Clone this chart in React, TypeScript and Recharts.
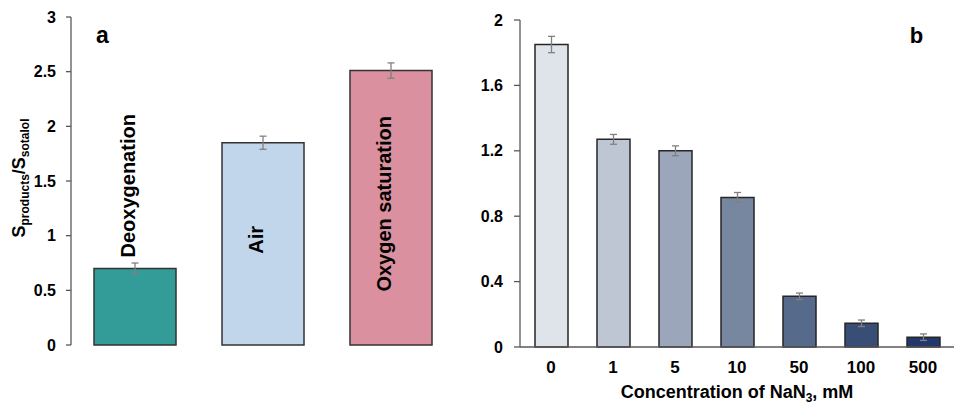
import React from 'react';
import { BarChart, Bar, XAxis, YAxis, Cell, ErrorBar, LabelList } from 'recharts';

const groupsA = ['Deoxygenation', 'Air', 'Oxygen saturation'];
const valuesA = [0.7, 1.85, 2.51];
const errorsA = [0.05, 0.06, 0.07];
const colorsA = ['#339b98', '#c2d6eb', '#da909e'];
const ticksA = [0, 0.5, 1, 1.5, 2, 2.5, 3];

const concB = ['0', '1', '5', '10', '50', '100', '500'];
const valuesB = [1.85, 1.27, 1.2, 0.915, 0.31, 0.145, 0.06];
const errorsB = [0.05, 0.03, 0.03, 0.03, 0.02, 0.02, 0.02];
const colorsB = ['#dfe3ea', '#bec6d4', '#9ba6ba', '#77879f', '#566a8b', '#394e74', '#22386a'];
const ticksB = [0, 0.4, 0.8, 1.2, 1.6, 2];

const dataA = groupsA.map((name, i) => ({ name, value: valuesA[i], err: errorsA[i] }));
const dataB = concB.map((name, i) => ({ name, value: valuesB[i], err: errorsB[i] }));

const FONT = '"Liberation Sans", Arial, sans-serif';
const AXIS = '#595959';

const renderBarLabel = (props: any) => {
  const { x, y, width, height, value } = props;
  const fs = 20;
  const cx = Number(x) + Number(width) / 2;
  const txt = String(value);
  const est = txt.length * 0.58 * fs;
  if (est > Number(height) - 10) {
    const sy = Number(y) - 11;
    return (
      <text x={cx} y={sy} transform={`rotate(-90, ${cx}, ${sy})`} textAnchor="start"
        fontFamily={FONT} fontWeight="bold" fontSize={fs} fill="#000">{txt}</text>
    );
  }
  const cy = Number(y) + Number(height) / 2 - 4;
  return (
    <text x={cx} y={cy} transform={`rotate(-90, ${cx}, ${cy})`} textAnchor="middle"
      fontFamily={FONT} fontWeight="bold" fontSize={fs} fill="#000">{txt}</text>
  );
};

const renderYLabelA = (props: any) => {
  const vb = props.viewBox || {};
  const x = (Number.isFinite(vb.x) ? vb.x : 0) + 25;
  const y = Number.isFinite(vb.y) ? vb.y + vb.height / 2 - 3 : 178;
  return (
    <text x={x} y={y} transform={`rotate(-90, ${x}, ${y})`} textAnchor="middle"
      fontFamily={FONT} fontWeight="bold" fontSize={18} fill="#000">
      <tspan>S</tspan>
      <tspan dy={4} fontSize={12}>products</tspan>
      <tspan dy={-4}>/S</tspan>
      <tspan dy={4} fontSize={12}>sotalol</tspan>
    </text>
  );
};

const renderXLabelB = (props: any) => {
  const vb = props.viewBox || {};
  const cx = Number.isFinite(vb.x) ? vb.x + vb.width / 2 : 277;
  const y = Number.isFinite(vb.y) ? vb.y + 51 : 398;
  return (
    <text x={cx} y={y} textAnchor="middle" fontFamily={FONT} fontWeight="bold" fontSize={18} fill="#000">
      <tspan>{'Concentration of NaN'}</tspan>
      <tspan dy={4} fontSize={12}>3</tspan>
      <tspan dy={-4}>{', mM'}</tspan>
    </text>
  );
};

const tickStyle = { fill: '#000', fontWeight: 'bold', fontSize: 16, fontFamily: FONT };

export default function App() {
  return (
    <div style={{ position: 'absolute', left: 0, top: 0, width: 962, height: 411, background: '#fff' }}>
      <div style={{ position: 'absolute', left: 0, top: 0 }}>
        <BarChart width={470} height={411} data={dataA} margin={{ top: 17, right: 15, bottom: 66, left: 0 }}>
          <XAxis dataKey="name" hide />
          <YAxis
            width={71}
            domain={[0, 3]}
            ticks={ticksA}
            interval={0}
            tick={tickStyle}
            tickSize={5}
            tickMargin={10}
            axisLine={{ stroke: AXIS, strokeWidth: 1.3 }}
            tickLine={{ stroke: AXIS, strokeWidth: 1.3 }}
            label={{ content: renderYLabelA }}
          />
          <Bar dataKey="value" barSize={82} stroke="#333" strokeWidth={1.5} isAnimationActive={false}>
            {dataA.map((d, i) => (
              <Cell key={d.name} fill={colorsA[i]} />
            ))}
            <ErrorBar dataKey="err" width={3.5} stroke="#808080" strokeWidth={1.3} direction="y" />
            <LabelList dataKey="name" content={renderBarLabel} />
          </Bar>
        </BarChart>
      </div>
      <div style={{ position: 'absolute', left: 460, top: 0 }}>
        <BarChart width={502} height={411} data={dataB} margin={{ top: 20, right: 8, bottom: 0, left: 0 }}>
          <XAxis
            dataKey="name"
            height={64}
            interval={0}
            tick={{ ...tickStyle, fontSize: 17 }}
            tickLine={false}
            tickSize={0}
            tickMargin={14}
            axisLine={{ stroke: AXIS, strokeWidth: 1.3 }}
            label={{ content: renderXLabelB }}
          />
          <YAxis
            width={60}
            domain={[0, 2]}
            ticks={ticksB}
            interval={0}
            tick={tickStyle}
            tickSize={6}
            tickMargin={11}
            axisLine={{ stroke: AXIS, strokeWidth: 1.3 }}
            tickLine={{ stroke: AXIS, strokeWidth: 1.3 }}
          />
          <Bar dataKey="value" barSize={33} stroke="#262626" strokeWidth={1.5} isAnimationActive={false}>
            {dataB.map((d, i) => (
              <Cell key={d.name} fill={colorsB[i]} />
            ))}
            <ErrorBar dataKey="err" width={3.5} stroke="#808080" strokeWidth={1.3} direction="y" />
          </Bar>
        </BarChart>
      </div>
      <svg width={962} height={411} style={{ position: 'absolute', left: 0, top: 0, pointerEvents: 'none' }}>
        <text x={102.5} y={42.5} textAnchor="middle" fontFamily={FONT} fontWeight="bold" fontSize={23} fill="#000">a</text>
        <text x={916.5} y={43} textAnchor="middle" fontFamily={FONT} fontWeight="bold" fontSize={22} fill="#000">b</text>
      </svg>
    </div>
  );
}
